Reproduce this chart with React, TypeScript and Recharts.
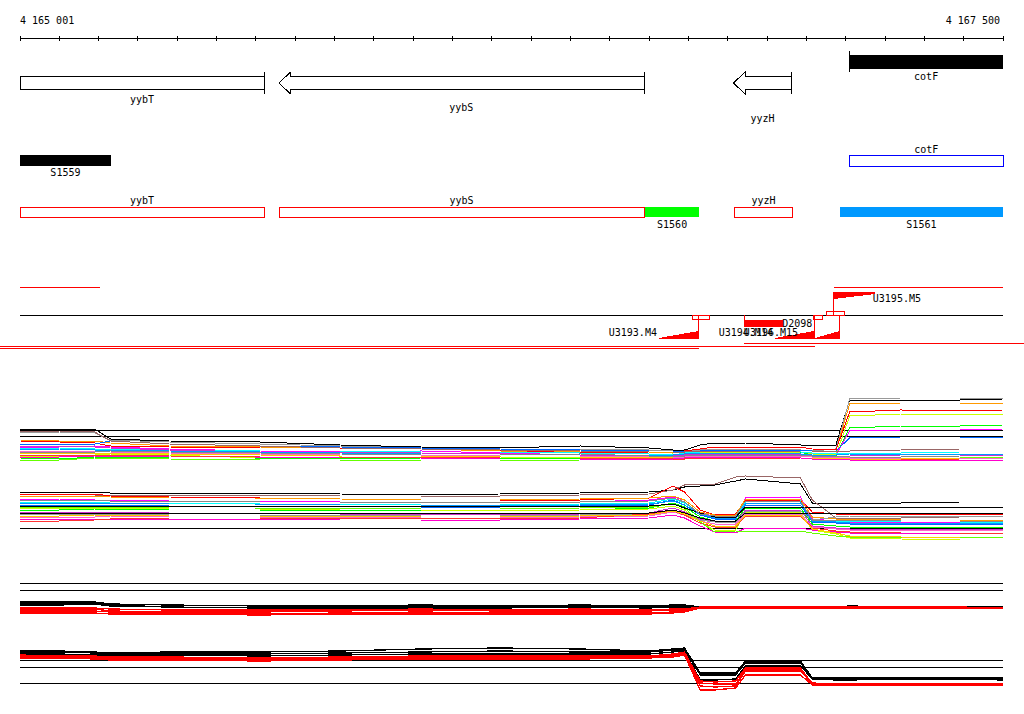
import React from "react";
import { ComposedChart, Line, XAxis, YAxis, ReferenceArea, ReferenceLine } from "recharts";

// ---------- genome window ----------
const VIEW_START = 4165000;
const VIEW_END = 4167500;
const axisTicks = [
  4165000, 4165100, 4165200, 4165300, 4165400, 4165500, 4165600, 4165700, 4165800,
  4165900, 4166000, 4166100, 4166200, 4166300, 4166400, 4166500, 4166600, 4166700,
  4166800, 4166900, 4167000, 4167100, 4167200, 4167300, 4167400, 4167500,
];
const rangeLabels = ["4 165 001", "4 167 500"];

// ---------- gene annotation ----------
const geneNames = ["yybT", "yybS", "yyzH", "cotF"];
const geneStarts = [4165000, 4165658, 4166814, 4167109];
const geneEnds = [4165621, 4166587, 4166963, 4167500];
const geneStrands = ["-", "-", "-", "+"];

// ---------- segments / probes track ----------
const featNames = ["S1559", "cotF", "yybT", "yybS", "S1560", "yyzH", "S1561"];
const featStarts = [4165000, 4167110, 4165000, 4165659, 4166590, 4166817, 4167085];
const featEnds = [4165231, 4167500, 4165621, 4166587, 4166727, 4166965, 4167500];
const featRows = [0, 0, 1, 1, 1, 1, 1];

// ---------- transcription units track ----------
const utrNames = ["U3193.M4", "U3194.M14", "U3196.M15", "U3195.M5"];
const utrStarts = [4166625, 4166920, 4167022, 4167070];
const utrEnds = [4166726, 4167020, 4167085, 4167174];
const utrStrands = ["-", "-", "-", "+"];
const siteStarts = [4166710, 4167017, 4167051];
const siteEnds = [4166754, 4167041, 4167096];
const siteStrands = ["-", "-", "+"];
const operonStarts = [4165000, 4167070, 4166842, 4164949, 4164949];
const operonEnds = [4165203, 4167500, 4167553, 4167022, 4166726];
const operonLevels = [0, 0, 1, 2, 3];
const deletionNames = ["D2098"];
const deletionStarts = [4166842];
const deletionEnds = [4166941];

// ---------- expression profiles ----------
const probePositions = [
  4165000, 4165100, 4165190, 4165230, 4165380, 4165610, 4165815, 4166020, 4166220, 4166425,
  4166600, 4166660, 4166690, 4166730, 4166767, 4166820, 4166845, 4166985, 4167015, 4167075,
  4167110, 4167240, 4167390, 4167500,
];

const profilesA = [
  [40, 41, 41, 31, 29, 28, 25, 23, 22, 24, 22, 20, 20, 25, 27, 27, 27, 25, 24, 25, 70, 70, 70, 71],
  [38, 38, 37, 30, 28, 26, 24, 22, 21, 21, 20, 19, 19, 20, 21, 21, 21, 20, 19, 21, 71, 72, 72, 72],
  [30, 29, 29, 27, 24, 23, 22, 21, 19, 18, 18, 18, 18, 19, 19, 19, 19, 18, 18, 19, 66, 67, 67, 67],
  [29, 28, 27, 24, 23, 22, 22, 21, 20, 17, 18, 18, 19, 21, 23, 23, 23, 23, 21, 20, 58, 60, 59, 60],
  [14, 14, 15, 16, 15, 12, 13, 12, 13, 12, 15, 16, 14, 17, 18, 18, 18, 18, 16, 15, 54, 56, 56, 56],
  [12, 11, 13, 13, 12, 12, 11, 12, 12, 11, 13, 14, 15, 18, 19, 19, 19, 18, 15, 14, 42, 44, 44, 45],
  [23, 23, 24, 23, 21, 19, 18, 19, 17, 15, 15, 15, 14, 15, 15, 15, 15, 16, 13, 15, 39, 40, 40, 41],
  [26, 26, 26, 29, 26, 24, 23, 22, 21, 20, 19, 19, 18, 19, 20, 20, 20, 20, 19, 19, 32, 33, 33, 33],
  [22, 22, 21, 21, 20, 19, 19, 18, 18, 17, 16, 15, 17, 18, 19, 19, 19, 18, 17, 17, 17, 17, 18, 18],
  [24, 24, 23, 22, 20, 18, 18, 17, 16, 15, 14, 14, 15, 16, 16, 16, 16, 15, 14, 14, 14, 15, 15, 15],
  [39, 39, 38, 29, 26, 24, 22, 21, 20, 19, 18, 18, 18, 19, 19, 19, 19, 18, 18, 19, 19, 20, 21, 21],
  [10, 10, 12, 12, 11, 10, 10, 9, 9, 10, 12, 13, 13, 15, 15, 15, 15, 14, 13, 13, 12, 13, 13, 13],
  [19, 19, 19, 18, 17, 16, 15, 15, 14, 14, 13, 13, 13, 14, 14, 14, 14, 14, 13, 13, 12, 12, 12, 12],
  [17, 17, 17, 17, 16, 15, 14, 14, 13, 13, 13, 12, 12, 13, 13, 13, 13, 12, 12, 12, 11, 11, 12, 12],
  [15, 15, 15, 15, 14, 13, 13, 13, 12, 12, 12, 11, 11, 12, 12, 12, 12, 11, 11, 11, 10, 10, 11, 11],
  [21, 21, 20, 20, 19, 18, 17, 16, 16, 15, 15, 15, 16, 17, 17, 17, 17, 16, 15, 15, 16, 16, 16, 16],
  [18, 18, 18, 19, 18, 17, 16, 15, 15, 16, 14, 14, 14, 15, 15, 15, 15, 15, 14, 14, 13, 13, 14, 14],
  [13, 13, 14, 14, 13, 13, 12, 12, 11, 11, 11, 11, 12, 13, 13, 13, 13, 12, 11, 11, 10, 10, 10, 10],
];
const colorsA = [
  "#000000", "#999999", "#ff9900", "#ff0000", "#ccff00", "#00ff00", "#ff00ff", "#0066ff", "#00ffff",
  "#cc33cc", "#996666", "#66ff00", "#ff66cc", "#ffcc00", "#ff3333", "#0099ff", "#888888", "#ff00cc",
];
const refLevelsA = [40, 34];

const profilesB = [
  [53, 53, 53, 52, 52, 52, 51, 50, 51, 52, 53, 55, 58, 59, 60, 64, 66, 61, 42, 42, 42, 42, 43, 43],
  [51, 51, 50, 50, 50, 50, 49, 49, 49, 50, 51, 55, 60, 61, 61, 68, 69, 67, 45, 27, 27, 27, 28, 28],
  [50, 51, 51, 49, 48, 47, 46, 45, 45, 45, 47, 59, 53, 35, 30, 31, 45, 45, 33, 31, 31, 31, 31, 31],
  [46, 46, 45, 45, 44, 44, 43, 42, 42, 43, 45, 48, 45, 33, 28, 28, 47, 48, 26, 24, 23, 23, 23, 23],
  [40, 40, 40, 40, 39, 39, 38, 38, 38, 39, 40, 45, 40, 30, 26, 26, 40, 40, 23, 22, 21, 21, 21, 21],
  [43, 43, 43, 42, 42, 41, 41, 40, 40, 41, 42, 46, 42, 31, 27, 27, 43, 44, 25, 24, 24, 23, 23, 23],
  [48, 49, 49, 48, 47, 47, 46, 45, 45, 46, 47, 49, 45, 33, 30, 30, 46, 46, 28, 26, 26, 25, 25, 25],
  [35, 35, 36, 36, 35, 35, 35, 34, 34, 35, 37, 42, 38, 28, 24, 24, 37, 37, 21, 19, 18, 18, 18, 18],
  [37, 37, 37, 37, 36, 36, 35, 35, 34, 35, 36, 39, 35, 23, 15, 15, 33, 33, 15, 11, 7, 6, 5, 5],
  [33, 33, 33, 33, 32, 31, 31, 31, 30, 31, 32, 37, 33, 26, 23, 23, 35, 35, 19, 17, 16, 16, 16, 16],
  [31, 31, 31, 31, 30, 30, 30, 29, 29, 30, 31, 35, 32, 25, 23, 23, 33, 34, 25, 28, 29, 29, 29, 29],
  [28, 28, 28, 29, 28, 28, 28, 27, 27, 28, 29, 33, 30, 24, 21, 21, 31, 31, 18, 16, 15, 15, 15, 15],
  [26, 26, 26, 26, 26, 26, 25, 25, 25, 26, 27, 30, 27, 19, 13, 12, 17, 17, 15, 13, 12, 12, 12, 12],
  [24, 24, 25, 26, 27, 27, 27, 27, 26, 27, 31, 34, 30, 22, 18, 18, 29, 29, 17, 14, 13, 12, 12, 12],
  [38, 38, 38, 38, 37, 37, 37, 36, 36, 37, 38, 41, 37, 23, 13, 14, 14, 14, 12, 9, 8, 8, 8, 8],
  [42, 42, 42, 42, 41, 41, 40, 40, 39, 40, 41, 44, 40, 31, 27, 27, 41, 42, 24, 23, 22, 22, 22, 22],
  [39, 39, 39, 39, 39, 39, 39, 39, 39, 39, 39, 41, 37, 32, 28, 28, 38, 38, 38, 38, 38, 38, 38, 38],
  [32, 32, 32, 32, 32, 32, 32, 32, 32, 32, 32, 35, 32, 27, 24, 24, 32, 32, 32, 32, 32, 32, 32, 32],
  [45, 45, 45, 44, 44, 43, 43, 43, 43, 43, 44, 47, 43, 31, 29, 29, 44, 44, 25, 25, 25, 24, 24, 24],
  [29, 29, 30, 30, 29, 29, 29, 28, 28, 29, 30, 34, 31, 24, 19, 19, 30, 30, 16, 12, 9, 8, 7, 7],
];
const colorsB = [
  "#000000", "#996666", "#ff0000", "#ff00ff", "#0066ff", "#00ffff", "#ff9900", "#00ff00", "#ccff00",
  "#cc33cc", "#999999", "#ff66cc", "#ff00cc", "#ff3333", "#66ff00", "#0099ff", "#000000", "#000000",
  "#888888", "#ffcc00",
];
const refLevelsB = [17];

const profilesC = [
  [18, 18, 18, 16, 15, 14, 14, 15, 14, 15, 14, 15, 15, 13, 13, 13, 13, 13, 13, 13, 14, 13, 13, 13],
  [16, 17, 17, 15, 13, 12, 13, 13, 13, 13, 13, 13, 13, 13, 13, 13, 13, 13, 13, 13, 13, 13, 13, 13],
  [15, 15, 16, 14, 13, 12, 12, 12, 12, 13, 12, 13, 13, 13, 12, 13, 13, 13, 13, 13, 13, 13, 13, 13],
  [12, 12, 12, 11, 10, 10, 10, 11, 10, 11, 10, 11, 11, 13, 13, 13, 13, 13, 13, 13, 13, 13, 13, 12],
  [10, 10, 11, 9, 8, 8, 9, 10, 9, 9, 9, 10, 10, 13, 13, 13, 13, 13, 13, 13, 12, 12, 12, 12],
  [8, 9, 9, 8, 7, 6, 7, 8, 7, 7, 7, 8, 9, 12, 12, 12, 12, 12, 12, 12, 12, 12, 12, 12],
  [7, 7, 7, 6, 6, 5, 6, 6, 6, 6, 6, 7, 8, 12, 12, 12, 12, 12, 12, 12, 12, 12, 12, 12],
];
const colorsC = ["#000000", "#000000", "#000000", "#ff0000", "#ff0000", "#ff0000", "#ff0000"];
const refLevelsC = [37, 30];

const profilesD = [
  [44, 44, 43, 42, 43, 43, 44, 46, 47, 46, 44, 46, 47, 22, 22, 22, 34, 34, 17, 17, 17, 17, 17, 17],
  [42, 43, 42, 41, 41, 41, 42, 43, 44, 43, 43, 45, 45, 20, 20, 20, 32, 32, 16, 16, 16, 16, 16, 16],
  [41, 41, 40, 40, 40, 39, 40, 41, 41, 41, 41, 43, 44, 15, 15, 16, 29, 29, 16, 15, 15, 16, 16, 15],
  [40, 39, 39, 38, 38, 37, 38, 39, 39, 39, 39, 41, 43, 14, 13, 14, 27, 27, 11, 11, 11, 11, 11, 11],
  [38, 38, 37, 36, 36, 35, 36, 37, 38, 37, 38, 39, 41, 9, 8, 9, 24, 24, 11, 10, 10, 10, 11, 11],
  [37, 37, 36, 35, 35, 34, 35, 36, 36, 36, 37, 38, 40, 5, 5, 7, 20, 20, 10, 10, 10, 10, 10, 10],
  [39, 39, 38, 37, 37, 36, 37, 38, 38, 38, 38, 40, 42, 12, 11, 11, 25, 25, 12, 11, 11, 11, 11, 11],
];
const colorsD = ["#000000", "#000000", "#000000", "#ff0000", "#ff0000", "#ff0000", "#ff0000"];
const refLevelsD = [35, 28, 12];

// ---------- styles ----------
const FONT = '"DejaVu Sans Mono", "Liberation Mono", monospace';
const MARGIN = { top: 0, right: 21, bottom: 0, left: 20 };
const domainRows = [{ pos: VIEW_START, lane: 0 }, { pos: VIEW_END, lane: 1 }];
const featFill: Record<string, string> = {
  S1559: "#000000", cotF: "none", yybT: "none", yybS: "none", S1560: "#00ff00", yyzH: "none", S1561: "#0099ff",
};
const featStroke: Record<string, string> = {
  S1559: "#000000", cotF: "#0000ff", yybT: "#ff0000", yybS: "#ff0000", S1560: "#00ff00", yyzH: "#ff0000", S1561: "#0099ff",
};
const geneLabelY: Record<string, number> = { yybT: 54, yybS: 62, yyzH: 73, cotF: 31 };
const utrLabelDx: Record<string, number> = { "U3196.M15": -15 };
const operonLevelY = [17, 73, 76, 78];

function rectOf(p: any) {
  const x = Number(p.x) || 0;
  const w = Number(p.width) || 0;
  const y = Number(p.y) || 0;
  const h = Number(p.height) || 0;
  return { x0: Math.min(x, x + w), x1: Math.max(x, x + w), top: Math.min(y, y + h) };
}

function Label({ x, y, anchor = "middle", children }: any) {
  return (
    <text x={x} y={y} textAnchor={anchor} dominantBaseline="central" fontFamily={FONT} fontSize={10} fill="#000">
      {children}
    </text>
  );
}

// ---------- glyphs ----------
function GeneGlyph(p: any) {
  const { x0, x1, top } = rectOf(p);
  const i = p.index;
  const name = geneNames[i];
  if (geneStrands[i] === "-") {
    const bt = top + 31, bb = top + 44, ht = top + 27, hb = top + 49, mid = (ht + hb) / 2;
    const hasHead = geneStarts[i] > VIEW_START;
    const hx = hasHead ? x0 + 12 : x0;
    const pts = hasHead
      ? `${x0},${mid} ${hx},${ht} ${hx},${bt} ${x1},${bt} ${x1},${bb} ${hx},${bb} ${hx},${hb}`
      : `${x0},${bt} ${x1},${bt} ${x1},${bb} ${x0},${bb}`;
    return (
      <g>
        <polygon points={pts} fill="#fff" stroke="#000" strokeWidth={1} />
        <line x1={x1} x2={x1} y1={ht} y2={hb} stroke="#000" />
        <Label x={(x0 + x1) / 2} y={top + geneLabelY[name]}>{name}</Label>
      </g>
    );
  }
  return (
    <g>
      <rect x={x0} y={top + 10} width={x1 - x0} height={14} fill="#000" />
      <line x1={x0} x2={x0} y1={top + 6} y2={top + 27} stroke="#000" />
      <Label x={(x0 + x1) / 2} y={top + geneLabelY[name]}>{name}</Label>
    </g>
  );
}

function FeatGlyph(p: any) {
  const { x0, x1, top } = rectOf(p);
  const i = p.index;
  const name = featNames[i];
  const row = featRows[i];
  const filled = featFill[name] !== "none";
  const by = top + (row === 0 ? 15 : 67);
  const bh = row === 0 ? 11 : 10;
  const ly = filled ? (row === 0 ? top + 32 : top + 84) : (row === 0 ? top + 9 : top + 60);
  return (
    <g>
      <rect x={x0} y={by} width={x1 - x0} height={bh} fill={filled ? featFill[name] : "none"} stroke={featStroke[name]} strokeWidth={filled ? 0 : 1} />
      <Label x={(x0 + x1) / 2} y={ly}>{name}</Label>
    </g>
  );
}

function UtrGlyph(p: any) {
  const { x0, x1, top } = rectOf(p);
  const i = p.index;
  const name = utrNames[i];
  if (utrStrands[i] === "+") {
    const pts = `${x0},${top + 22} ${x1},${top + 22} ${x1},${top + 24} ${x0},${top + 29}`;
    return (
      <g>
        <polygon points={pts} fill="#ff0000" />
        <line x1={x0} x2={x0} y1={top + 22} y2={top + 45} stroke="#ff0000" />
        <Label x={x1 - 2} y={top + 28} anchor="start">{name}</Label>
      </g>
    );
  }
  const pts = `${x0},${top + 68} ${x1},${top + 61} ${x1},${top + 69} ${x0},${top + 69}`;
  return (
    <g>
      <polygon points={pts} fill="#ff0000" />
      <line x1={x1} x2={x1} y1={top + 45} y2={top + 69} stroke="#ff0000" />
      <Label x={x0 - 2 + (utrLabelDx[name] || 0)} y={top + 62} anchor="end">{name}</Label>
    </g>
  );
}

function SiteGlyph(p: any) {
  const { x0, x1, top } = rectOf(p);
  const plus = siteStrands[p.index] === "+";
  return <rect x={x0} y={top + (plus ? 41 : 45)} width={x1 - x0} height={4} fill="none" stroke="#ff0000" />;
}

function OperonGlyph(p: any) {
  const { x0, x1, top } = rectOf(p);
  const yy = top + operonLevelY[operonLevels[p.index]];
  return <line x1={x0} x2={x1} y1={yy} y2={yy} stroke="#ff0000" />;
}

function BaselineGlyph(p: any) {
  const { x0, x1, top } = rectOf(p);
  return <line x1={x0} x2={x1} y1={top + 45} y2={top + 45} stroke="#000" />;
}

function DeletionGlyph(p: any) {
  const { x0, x1, top } = rectOf(p);
  return (
    <g>
      <rect x={x0} y={top + 50} width={x1 - x0} height={7} fill="#ff0000" />
      <line x1={x0} x2={x0} y1={top + 45} y2={top + 50} stroke="#ff0000" />
      <Label x={x1 - 1} y={top + 53.5} anchor="start">{deletionNames[p.index]}</Label>
    </g>
  );
}

function AxisTick(p: any) {
  const { x, y, payload } = p;
  const v = payload ? payload.value : 0;
  return (
    <g>
      <line x1={x} x2={x} y1={y - 2} y2={y + 3} stroke="#000" />
      {v === VIEW_START && <Label x={x} y={y - 17.5} anchor="start">{rangeLabels[0]}</Label>}
      {v === VIEW_END && <Label x={x - 3} y={y - 17.5} anchor="end">{rangeLabels[1]}</Label>}
    </g>
  );
}

// ---------- tracks ----------
function AnnotationTrack({ top, height, children }: any) {
  return (
    <div style={{ position: "absolute", left: 0, top }}>
      <ComposedChart width={1024} height={height} margin={MARGIN} data={domainRows}>
        <XAxis type="number" dataKey="pos" domain={[VIEW_START, VIEW_END]} hide allowDataOverflow />
        <YAxis type="number" dataKey="lane" domain={[0, 1]} hide allowDataOverflow />
        {children}
      </ComposedChart>
    </div>
  );
}

function ProfileTrack({ top, height, profiles, colors, refs, lineWidth }: any) {
  const data = probePositions.map((pos, i) => {
    const row: any = { pos };
    profiles.forEach((s: number[], k: number) => {
      row["s" + k] = s[i];
    });
    return row;
  });
  return (
    <div style={{ position: "absolute", left: 0, top }}>
      <ComposedChart width={1024} height={height} margin={MARGIN} data={data}>
        <XAxis type="number" dataKey="pos" domain={[VIEW_START, VIEW_END]} hide />
        <YAxis type="number" domain={[0, height]} hide />
        {refs.map((r: number) => (
          <ReferenceLine key={"r" + r} y={r} stroke="#000" strokeWidth={1} ifOverflow="visible" />
        ))}
        {profiles.map((_: any, k: number) => (
          <Line
            key={"s" + k}
            dataKey={"s" + k}
            type="linear"
            stroke={colors[k]}
            strokeWidth={lineWidth}
            dot={false}
            activeDot={false}
            isAnimationActive={false}
          />
        ))}
      </ComposedChart>
    </div>
  );
}

export default function App() {
  return (
    <div
      style={{
        position: "absolute",
        left: 0,
        top: 0,
        width: 1024,
        height: 714,
        background: "#fff",
        overflow: "hidden",
        shapeRendering: "crispEdges",
      } as any}
    >
      {/* coordinate ruler */}
      <div style={{ position: "absolute", left: 0, top: 0 }}>
        <ComposedChart width={1024} height={60} margin={MARGIN} data={axisTicks.map((t) => ({ pos: t }))}>
          <XAxis
            type="number"
            dataKey="pos"
            domain={[VIEW_START, VIEW_END]}
            ticks={axisTicks}
            interval={0}
            height={22}
            tickSize={0}
            tickMargin={0}
            tickLine={false}
            axisLine={{ stroke: "#000" }}
            tick={(p: any) => <AxisTick {...p} />}
            allowDataOverflow
          />
          <YAxis type="number" domain={[0, 1]} hide />
        </ComposedChart>
      </div>

      {/* genes */}
      <AnnotationTrack top={45} height={80}>
        {geneNames.map((n, i) => (
          <ReferenceArea key={"g" + n} x1={geneStarts[i]} x2={geneEnds[i]} y1={0} y2={1} ifOverflow="visible" shape={(p: any) => <GeneGlyph {...p} index={i} />} />
        ))}
      </AnnotationTrack>

      {/* segments */}
      <AnnotationTrack top={140} height={90}>
        {featNames.map((n, i) => (
          <ReferenceArea key={"f" + i} x1={featStarts[i]} x2={featEnds[i]} y1={0} y2={1} ifOverflow="visible" shape={(p: any) => <FeatGlyph {...p} index={i} />} />
        ))}
      </AnnotationTrack>

      {/* transcription units */}
      <AnnotationTrack top={270} height={85}>
        <ReferenceArea x1={VIEW_START} x2={VIEW_END} y1={0} y2={1} ifOverflow="visible" shape={(p: any) => <BaselineGlyph {...p} />} />
        {operonStarts.map((s, i) => (
          <ReferenceArea key={"o" + i} x1={s} x2={operonEnds[i]} y1={0} y2={1} ifOverflow="visible" shape={(p: any) => <OperonGlyph {...p} index={i} />} />
        ))}
        {siteStarts.map((s, i) => (
          <ReferenceArea key={"b" + i} x1={s} x2={siteEnds[i]} y1={0} y2={1} ifOverflow="visible" shape={(p: any) => <SiteGlyph {...p} index={i} />} />
        ))}
        {deletionNames.map((n, i) => (
          <ReferenceArea key={"d" + n} x1={deletionStarts[i]} x2={deletionEnds[i]} y1={0} y2={1} ifOverflow="visible" shape={(p: any) => <DeletionGlyph {...p} index={i} />} />
        ))}
        {utrNames.map((n, i) => (
          <ReferenceArea key={"u" + n} x1={utrStarts[i]} x2={utrEnds[i]} y1={0} y2={1} ifOverflow="visible" shape={(p: any) => <UtrGlyph {...p} index={i} />} />
        ))}
      </AnnotationTrack>

      {/* expression profiles */}
      <ProfileTrack top={380} height={90} profiles={profilesA} colors={colorsA} refs={refLevelsA} lineWidth={1} />
      <ProfileTrack top={470} height={75} profiles={profilesB} colors={colorsB} refs={refLevelsB} lineWidth={1} />
      <ProfileTrack top={575} height={45} profiles={profilesC} colors={colorsC} refs={refLevelsC} lineWidth={1.3} />
      <ProfileTrack top={640} height={55} profiles={profilesD} colors={colorsD} refs={refLevelsD} lineWidth={1.3} />
    </div>
  );
}
